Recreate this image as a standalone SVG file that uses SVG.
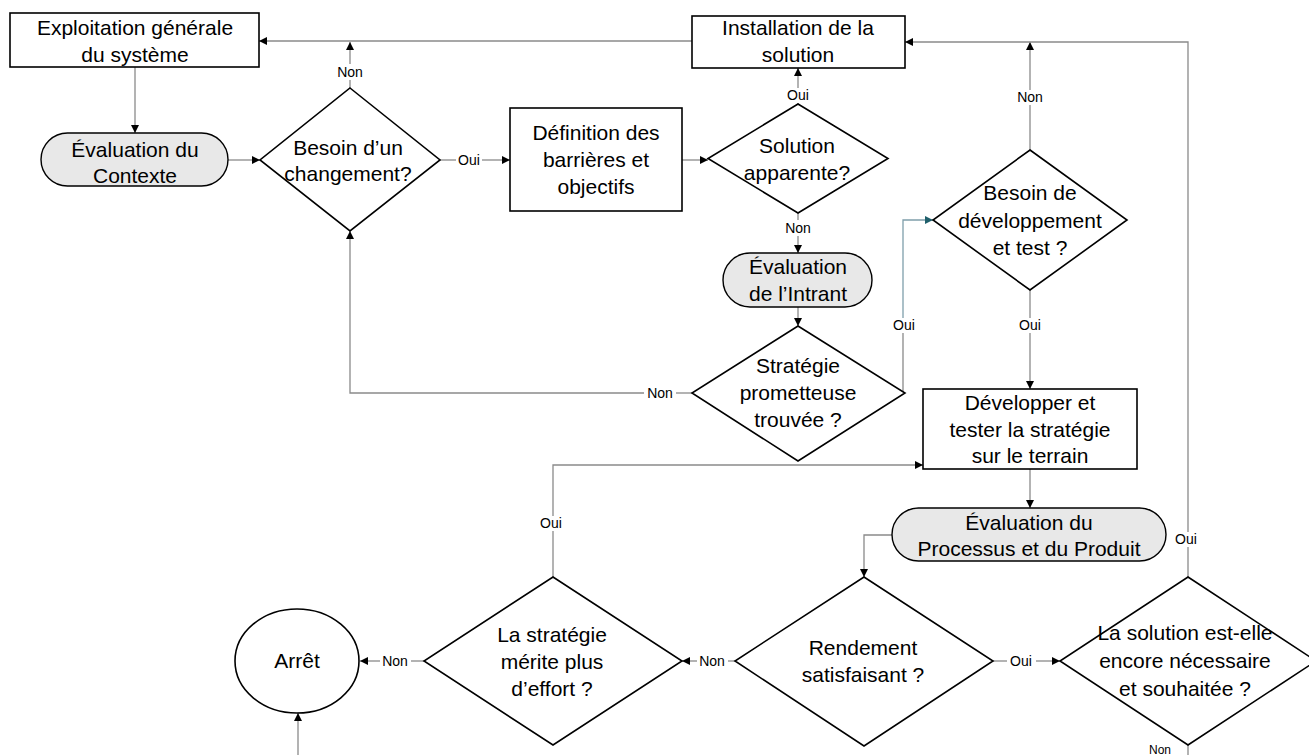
<svg xmlns="http://www.w3.org/2000/svg" width="1309" height="755" viewBox="0 0 1309 755">
<style>
.box{fill:#fff;stroke:#000;stroke-width:1.6}
.pill{fill:#e8e8e8;stroke:#000;stroke-width:1.4}
.dia{fill:#fff;stroke:#000;stroke-width:1.6}
.t{font-family:"Liberation Sans",Arial,sans-serif;font-size:21px;fill:#000;text-anchor:middle}
.lb{font-family:"Liberation Sans",Arial,sans-serif;font-size:14px;fill:#000;text-anchor:middle}
.c{fill:none;stroke:#8a8a8a;stroke-width:1.3}
.ca{fill:none;stroke:#8a8a8a;stroke-width:1.3;marker-end:url(#ah)}
.teal{fill:none;stroke:#7f9fab;stroke-width:1.3;marker-end:url(#aht)}
</style>
<defs>
<marker id="ah" markerUnits="userSpaceOnUse" markerWidth="9" markerHeight="8" refX="8" refY="4" orient="auto"><path d="M0,0 L8,4 L0,8 Z" fill="#000"/></marker>
<marker id="aht" markerUnits="userSpaceOnUse" markerWidth="9" markerHeight="8" refX="8" refY="4" orient="auto"><path d="M0,0 L8,4 L0,8 Z" fill="#1f5f6b"/></marker>
</defs>
<rect width="1309" height="755" fill="#fff"/>
<g id="connectors">
<path class="ca" d="M135,67 V133"/>
<path class="ca" d="M228,160 H260"/>
<path class="c" d="M350,88 V80"/><path class="ca" d="M350,64 V42"/>
<path class="ca" d="M692,41 H259"/>
<path class="c" d="M440,160 H456"/><path class="ca" d="M482,160 H510"/>
<path class="ca" d="M682,160 H708"/>
<path class="c" d="M798,104 V103"/><path class="ca" d="M798,88 V68"/>
<path class="c" d="M798,213 V220"/><path class="ca" d="M798,236 V253"/>
<path class="ca" d="M798,307 V326"/>
<path class="c" d="M692,393 H676"/><path class="ca" d="M644,393 H350 V231"/>
<path class="c" d="M905,393 H903 V333"/><path class="teal" d="M903,318 V220 H933"/>
<path class="c" d="M1030,150 V105"/><path class="ca" d="M1030,90 V42"/>
<path class="c" d="M1030,290 V318"/><path class="ca" d="M1030,333 V389"/>
<path class="c" d="M1188,577 V547"/><path class="ca" d="M1188,532 V42 H905"/>
<path class="ca" d="M1030,469 V508"/>
<path class="ca" d="M892,535 H864 V577"/>
<path class="c" d="M993,661 H1007"/><path class="ca" d="M1036,661 H1060"/>
<path class="c" d="M735,661 H728"/><path class="ca" d="M697,661 H682"/>
<path class="c" d="M553,577 V531"/><path class="ca" d="M553,516 V465 H923"/>
<path class="c" d="M424,661 H411"/><path class="ca" d="M380,661 H360"/>
<path class="c" d="M1188,745 V755"/>
<path class="ca" d="M298,755 V713"/>
<text class="lb" x="350" y="77">Non</text>
<text class="lb" x="469" y="165">Oui</text>
<text class="lb" x="798" y="100">Oui</text>
<text class="lb" x="798" y="233">Non</text>
<text class="lb" x="660" y="398">Non</text>
<text class="lb" x="904" y="330">Oui</text>
<text class="lb" x="1030" y="102">Non</text>
<text class="lb" x="1030" y="330">Oui</text>
<text class="lb" x="1186" y="544">Oui</text>
<text class="lb" x="1021" y="666">Oui</text>
<text class="lb" x="712" y="666">Non</text>
<text class="lb" x="551" y="528">Oui</text>
<text class="lb" x="395" y="666">Non</text>
<text class="lb" x="1160" y="754" style="font-size:12px">Non</text>
</g>
<g id="n-exploitation"><rect class="box" x="10" y="13" width="249" height="54"/><text class="t" x="135" y="35">Exploitation générale</text><text class="t" x="135" y="62">du système</text></g>
<g id="n-installation"><rect class="box" x="692" y="16" width="213" height="52"/><text class="t" x="798" y="35">Installation de la</text><text class="t" x="798" y="62">solution</text></g>
<g id="n-eval-contexte"><rect class="pill" x="41" y="133" width="187" height="53" rx="26.5"/><text class="t" x="135" y="157">Évaluation du</text><text class="t" x="135" y="183">Contexte</text></g>
<g id="n-besoin-changement"><polygon class="dia" points="350,88 440,160 350,231 260,160"/><text class="t" x="348" y="155">Besoin d’un</text><text class="t" x="348" y="181">changement?</text></g>
<g id="n-definition"><rect class="box" x="510" y="108" width="172" height="103"/><text class="t" x="596" y="140">Définition des</text><text class="t" x="596" y="167">barrières et</text><text class="t" x="596" y="194">objectifs</text></g>
<g id="n-solution-apparente"><polygon class="dia" points="798,104 888,158.5 798,213 708,158.5"/><text class="t" x="797" y="153">Solution</text><text class="t" x="797" y="180">apparente?</text></g>
<g id="n-eval-intrant"><rect class="pill" x="723" y="253" width="149" height="54" rx="27"/><text class="t" x="798" y="274">Évaluation</text><text class="t" x="798" y="301">de l’Intrant</text></g>
<g id="n-strategie"><polygon class="dia" points="798,326 905,393 798,461 692,393"/><text class="t" x="798" y="373">Stratégie</text><text class="t" x="798" y="400">prometteuse</text><text class="t" x="798" y="427">trouvée ?</text></g>
<g id="n-besoin-dev"><polygon class="dia" points="1030,150 1127,220 1030,290 933,220"/><text class="t" x="1030" y="200">Besoin de</text><text class="t" x="1030" y="228">développement</text><text class="t" x="1030" y="255">et test ?</text></g>
<g id="n-developper"><rect class="box" x="923" y="389" width="214" height="80"/><text class="t" x="1030" y="410">Développer et</text><text class="t" x="1030" y="437">tester la stratégie</text><text class="t" x="1030" y="463">sur le terrain</text></g>
<g id="n-eval-processus"><rect class="pill" x="892" y="508" width="274" height="53" rx="26.5"/><text class="t" x="1029" y="530">Évaluation du</text><text class="t" x="1029" y="556">Processus et du Produit</text></g>
<g id="n-rendement"><polygon class="dia" points="864,577 993,661 864,746 735,661"/><text class="t" x="863" y="655">Rendement</text><text class="t" x="863" y="682">satisfaisant ?</text></g>
<g id="n-solution-necessaire"><polygon class="dia" points="1188,577 1316,661 1188,745 1060,661"/><text class="t" x="1185" y="640">La solution est-elle</text><text class="t" x="1185" y="668">encore nécessaire</text><text class="t" x="1185" y="696">et souhaitée ?</text></g>
<g id="n-merite"><polygon class="dia" points="553,577 682,661 553,745 424,661"/><text class="t" x="552" y="642">La stratégie</text><text class="t" x="552" y="669">mérite plus</text><text class="t" x="552" y="696">d’effort ?</text></g>
<g id="n-arret"><ellipse class="box" cx="297" cy="661" rx="62" ry="52"/><text class="t" x="297" y="668">Arrêt</text></g>
</svg>
